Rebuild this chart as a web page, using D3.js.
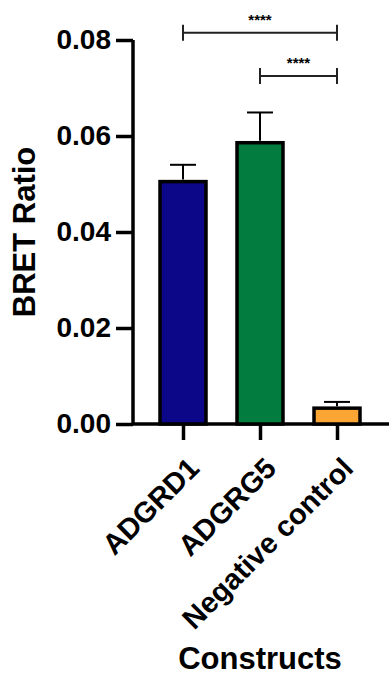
<!DOCTYPE html>
<html>
<head>
<meta charset="utf-8">
<script src="https://cdn.jsdelivr.net/npm/d3@7"></script>
<style>
  body { margin: 0; background: #fff; }
  text { font-family: "Liberation Sans", Arial, sans-serif; font-weight: bold; }
</style>
</head>
<body>
<div id="chart-area"></div>
<script>
// data
var categories = ["ADGRD1", "ADGRG5", "Negative control"];
var means = [0.0505, 0.0586, 0.0033];
var errors = [0.0035, 0.0063, 0.0013];
var colors = ["#0c0788", "#037d3f", "#fba534"];
var yTicks = [0, 0.02, 0.04, 0.06, 0.08];
var comparisons = [
    { from: "ADGRD1", to: "Negative control", level: 0.0815, label: "****" },
    { from: "ADGRG5", to: "Negative control", level: 0.0725, label: "****" }
];

var width = 389;
var height = 675;

var svg = d3.select("#chart-area")
    .append("svg")
    .attr("width", width)
    .attr("height", height);

var y = d3.scaleLinear()
    .domain([0, 0.08])
    .range([424, 40]);

var x = d3.scalePoint()
    .domain(categories)
    .range([183, 337]);

var barWidth = 46;

// y axis
var yAxis = svg.append("g")
    .attr("transform", "translate(133,0)")
    .call(d3.axisLeft(y).tickValues(yTicks).tickSize(17).tickPadding(5)
        .tickFormat(d3.format(".2f")));
yAxis.select(".domain").attr("stroke-width", 3.5).attr("d", "M0," + y(0.08) + "V" + y(0));
yAxis.selectAll(".tick line").attr("stroke-width", 3.5);
yAxis.selectAll(".tick text")
    .attr("font-size", "28px")
    .attr("font-weight", "bold")
    .attr("font-family", "Liberation Sans, Arial, sans-serif")
    .attr("fill", "#000");

// x axis
var xAxis = svg.append("g")
    .attr("transform", "translate(0," + y(0) + ")")
    .call(d3.axisBottom(x).tickSize(16).tickFormat(""));
xAxis.select(".domain").attr("stroke-width", 3.5).attr("d", "M133,0H389");
xAxis.selectAll(".tick line").attr("stroke-width", 3.5);

// bars
svg.selectAll("rect.bar")
    .data(categories)
    .enter()
    .append("rect")
    .attr("class", "bar")
    .attr("x", function(d) { return x(d) - barWidth / 2; })
    .attr("y", function(d, i) { return y(means[i]); })
    .attr("width", barWidth)
    .attr("height", function(d, i) { return y(0) - y(means[i]); })
    .attr("fill", function(d, i) { return colors[i]; })
    .attr("stroke", "#000")
    .attr("stroke-width", 3.5);

// error bars (upper only)
var errG = svg.selectAll("g.err")
    .data(categories)
    .enter()
    .append("g")
    .attr("class", "err");
errG.append("line")
    .attr("x1", function(d) { return x(d); })
    .attr("x2", function(d) { return x(d); })
    .attr("y1", function(d, i) { return y(means[i]) - 2; })
    .attr("y2", function(d, i) { return y(means[i] + errors[i]); })
    .attr("stroke", "#000")
    .attr("stroke-width", 2);
errG.append("line")
    .attr("x1", function(d) { return x(d) - 13; })
    .attr("x2", function(d) { return x(d) + 13; })
    .attr("y1", function(d, i) { return y(means[i] + errors[i]); })
    .attr("y2", function(d, i) { return y(means[i] + errors[i]); })
    .attr("stroke", "#000")
    .attr("stroke-width", 2);

// significance brackets
comparisons.forEach(function(c) {
    var x1 = x(c.from), x2 = x(c.to), yy = y(c.level);
    svg.append("path")
        .attr("d", "M" + x1 + "," + (yy - 8) + "V" + (yy + 8) + "M" + x1 + "," + yy + "H" + x2 +
            "M" + x2 + "," + (yy - 8) + "V" + (yy + 8))
        .attr("fill", "none")
        .attr("stroke", "#222")
        .attr("stroke-width", 2);
    svg.append("text")
        .attr("x", (x1 + x2) / 2)
        .attr("y", yy - 8)
        .attr("text-anchor", "middle")
        .attr("font-size", "15px")
        .text(c.label);
});

// category labels
svg.selectAll("text.cat")
    .data(categories)
    .enter()
    .append("text")
    .attr("class", "cat")
    .attr("transform", function(d) { return "translate(" + (x(d) + 18) + "," + (y(0) + 46) + ") rotate(-45)"; })
    .attr("text-anchor", "end")
    .attr("font-size", "29px")
    .text(function(d) { return d; });

// axis titles
svg.append("text")
    .attr("transform", "translate(35," + y(0.04) + ") rotate(-90)")
    .attr("text-anchor", "middle")
    .attr("font-size", "31px")
    .text("BRET Ratio");

svg.append("text")
    .attr("x", 260)
    .attr("y", 669)
    .attr("text-anchor", "middle")
    .attr("font-size", "31px")
    .text("Constructs");
</script>
</body>
</html>
